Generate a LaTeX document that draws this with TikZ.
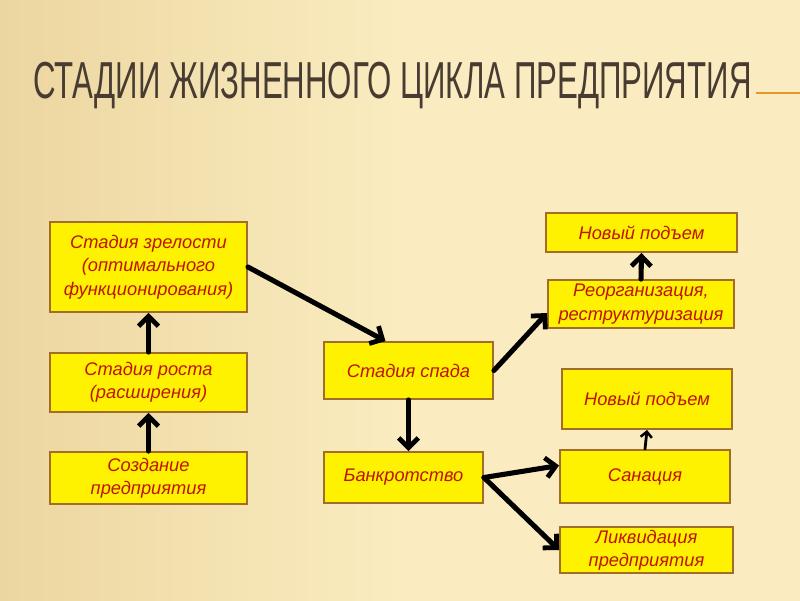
\documentclass[tikz,border=0pt]{standalone}
\usepackage{fontspec}
\setmainfont{Liberation Sans}
\newfontfamily\titlefont[FakeStretch=0.6]{Liberation Sans}
\usetikzlibrary{arrows.meta, positioning}
\definecolor{fonsvet}{RGB}{250,236,192}
\definecolor{fontemn}{RGB}{236,214,160}
\definecolor{zagolovok}{RGB}{72,60,50}
\definecolor{linia}{RGB}{232,150,40}
\definecolor{ramka}{RGB}{160,110,40}
\definecolor{tekst}{RGB}{190,20,0}

\begin{document}
\begin{tikzpicture}[x=0.025cm, y=-0.025cm,
  stadia/.style={draw=ramka, line width=1.3pt, fill=yellow, align=center,
    font=\fontsize{13}{16.7}\selectfont\itshape, text=tekst, inner sep=0pt},
  strelka/.style={-{Straight Barb[length=7pt, width=14pt, line width=3.4pt]},
    line width=3.6pt, line cap=round, black}]
  % Фон
  \useasboundingbox (0,0) rectangle (800,600);
  \shade[left color=fontemn, right color=fonsvet, middle color=fonsvet] (0,0) rectangle (800,600);
  % Заголовок
  \node[font=\titlefont\fontsize{37}{40}\selectfont, text=zagolovok, anchor=west, inner sep=0pt] (title) at (33,86)
    {СТАДИИ ЖИЗНЕННОГО ЦИКЛА ПРЕДПРИЯТИЯ};
  \coordinate (lineend) at (800,93);
  \draw[linia, line width=1.2pt] ([xshift=3pt]title.east |- lineend) -- (lineend);
  % Левая колонка
  \node[stadia, minimum width=4.925cm, minimum height=2.25cm] (zrel) at (148.5,267)
    {Стадия зрелости\\(оптимального\\функционирования)};
  \node[stadia, minimum width=4.925cm, minimum height=1.475cm] (rost) at (148.5,382.5)
    {Стадия роста\\(расширения)};
  \node[stadia, minimum width=4.925cm, minimum height=1.3cm] (sozd) at (148.5,478)
    {Создание\\предприятия};
  % Центр
  \node[stadia, minimum width=4.225cm, minimum height=1.425cm] (spad) at (408.5,370.5)
    {Стадия спада};
  \node[stadia, minimum width=3.975cm, minimum height=1.275cm] (bankr) at (403.5,477.5)
    {Банкротство};
  % Правая колонка
  \node[stadia, minimum width=4.775cm, minimum height=0.975cm] (podem1) at (641.5,232.5)
    {Новый подъем};
  \node[stadia, minimum width=4.65cm, minimum height=1.2cm] (reorg) at (641,304)
    {Реорганизация,\\реструктуризация};
  \node[stadia, minimum width=4.25cm, minimum height=1.5cm] (podem2) at (647,399)
    {Новый подъем};
  \node[stadia, minimum width=4.25cm, minimum height=1.325cm] (sanac) at (645,476.5)
    {Санация};
  \node[stadia, minimum width=4.325cm, minimum height=1.15cm] (likv) at (646.5,550)
    {Ликвидация\\предприятия};
  % Стрелки
  \draw[strelka] (sozd.north) -- (rost.south);
  \draw[strelka] (rost.north) -- (zrel.south);
  \draw[strelka] (zrel.east) -- ([xshift=-0.575cm]spad.north);
  \draw[strelka] (spad.south) -- (bankr.north -| spad.south);
  \draw[strelka] (spad.east) -- ([yshift=-0.225cm]reorg.west);
  \draw[strelka] (reorg.north) -- (podem1.south);
  \draw[-{Straight Barb[length=4pt, width=8pt, line width=1.8pt]}, line width=2pt, line cap=round]
    (sanac.north) -- (podem2.south);
  \draw[strelka] (bankr.east) -- ([yshift=0.275cm]sanac.west);
  \draw[strelka] (bankr.east) -- (likv.west);
\end{tikzpicture}
\end{document}
